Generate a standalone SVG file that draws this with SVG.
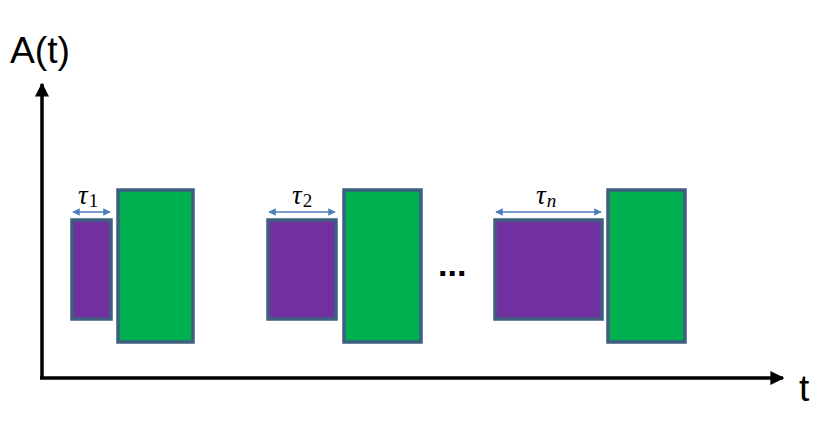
<svg xmlns="http://www.w3.org/2000/svg" width="836" height="425" viewBox="0 0 836 425">
<defs>
<marker id="ah" viewBox="0 0 10 10" refX="9" refY="5" markerWidth="4" markerHeight="4" orient="auto-start-reverse"><path d="M0,0 L10,5 L0,10 z" fill="#000"/></marker>
<marker id="bh" viewBox="0 0 10 10" refX="9" refY="5" markerWidth="5" markerHeight="5" orient="auto-start-reverse"><path d="M0,0 L10,5 L0,10 z" fill="#4a7ebb"/></marker>
<style>
.p{fill:#7030a0;stroke:#3e5f80;stroke-width:3.5}
.g{fill:#00b050;stroke:#3e5f80;stroke-width:3.5}
.ax{stroke:#000;stroke-width:3.5;fill:none}
.dim{stroke:#4a7ebb;stroke-width:1.5;fill:none}
.lab{font-family:"Liberation Sans","DejaVu Sans",sans-serif;font-size:37px;fill:#000}
.tau{font-family:"Liberation Serif","DejaVu Serif",serif;font-style:italic;font-size:27px;fill:#000}
.sub{font-family:"Liberation Serif","DejaVu Serif",serif;font-size:19px;fill:#000}
</style>
</defs>
<g id="axes">
<path class="ax" d="M42,378 L42,84" marker-end="url(#ah)"/>
<path class="ax" d="M40,378 L783,378" marker-end="url(#ah)"/>
<text class="lab" x="10" y="63" textLength="60" lengthAdjust="spacingAndGlyphs">A(t)</text>
<text class="lab" x="799" y="401">t</text>
</g>
<g id="p1"><rect class="p" x="72" y="220" width="39" height="99"/></g>
<g id="g1"><rect class="g" x="118" y="190" width="75" height="152"/></g>
<g id="p2"><rect class="p" x="268" y="220" width="68" height="99"/></g>
<g id="g2"><rect class="g" x="344" y="190" width="77" height="152"/></g>
<g id="p3"><rect class="p" x="495" y="220" width="107" height="99"/></g>
<g id="g3"><rect class="g" x="608" y="190" width="77" height="152"/></g>
<g id="connectors">
<path class="dim" d="M73,212 L110,212" marker-start="url(#bh)" marker-end="url(#bh)"/>
<path class="dim" d="M269,212 L335,212" marker-start="url(#bh)" marker-end="url(#bh)"/>
<path class="dim" d="M496,212 L601,212" marker-start="url(#bh)" marker-end="url(#bh)"/>
</g>
<g id="labels">
<text x="78" y="204"><tspan class="tau">τ</tspan><tspan class="sub" dx="1" dy="3">1</tspan></text>
<text x="292" y="204"><tspan class="tau">τ</tspan><tspan class="sub" dx="1" dy="3">2</tspan></text>
<text x="536" y="204"><tspan class="tau">τ</tspan><tspan class="sub" dx="1" dy="3" font-style="italic">n</tspan></text>
<text class="lab" x="438" y="276" style="font-weight:bold;font-size:34px">...</text>
</g>
</svg>
